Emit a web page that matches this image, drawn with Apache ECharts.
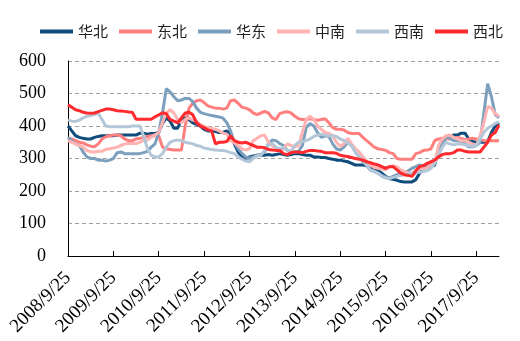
<!DOCTYPE html>
<html>
<head>
<meta charset="utf-8">
<script src="https://cdn.jsdelivr.net/npm/echarts@6/dist/echarts.min.js"></script>
<style>
html,body{margin:0;padding:0;background:#fff;}
#chart{width:520px;height:341px;}
</style>
</head>
<body>
<div id="chart"></div>
<script>
// Monthly samples (the 25th of each month) from 2008/9/25 to 2018/3/25
const startYear = 2008, startMonth = 9, sampleCount = 115;
const categories = [];
for (let k = 0; k < sampleCount; k++) {
  const m = startMonth - 1 + k;
  categories.push((startYear + Math.floor(m / 12)) + '/' + (m % 12 + 1) + '/25');
}

const seriesNames = ['华北', '东北', '华东', '中南', '西南', '西北'];

const huabei = [
  400,385,370,365,362,360,360,365,368,370,370,370,
  370,372,372,372,372,372,372,378,378,375,377,377,
  380,408,425,415,393,393,420,425,420,410,405,400,
  390,385,385,383,380,380,385,375,345,320,305,300,
  305,308,310,310,310,312,310,312,315,312,310,312,
  315,315,312,310,310,305,305,303,303,300,298,295,
  295,292,290,285,280,280,280,278,270,265,262,255,
  245,238,236,233,229,228,228,228,235,255,268,274,
  275,280,330,350,362,365,372,372,378,378,360,352,
  350,350,350,352,380,400,410
];
const dongbei = [
  362,360,355,350,348,342,338,336,345,360,367,370,
  372,372,370,360,355,355,360,362,365,368,370,372,
  370,335,330,328,326,326,326,400,455,470,478,480,
  472,462,458,455,455,452,455,478,480,470,458,455,
  450,440,435,440,445,440,425,420,438,442,444,440,
  430,422,420,420,422,420,418,420,422,410,395,390,
  390,388,380,377,377,377,365,355,345,335,330,328,
  325,318,315,300,298,298,298,298,315,318,325,326,
  330,355,360,362,362,360,362,365,362,358,360,362,
  360,358,355,355,355,355,355
];
const huadong = [
  365,355,345,340,320,305,300,300,295,295,292,295,
  300,318,320,315,315,315,315,315,318,322,335,345,
  380,440,515,505,490,478,480,485,485,475,455,442,
  438,435,432,430,428,424,410,385,350,330,316,305,
  300,305,310,312,320,345,357,355,346,340,325,318,
  320,322,340,395,408,400,380,365,370,368,345,330,
  326,335,350,340,320,305,290,278,264,260,255,248,
  243,240,245,250,256,258,262,270,275,280,278,282,
  280,290,320,345,367,362,355,355,352,345,336,336,
  340,350,440,530,490,435,425
];
const zhongnan = [
  355,350,345,340,335,325,320,320,322,322,328,330,
  332,335,340,345,346,346,346,350,356,357,365,372,
  380,410,440,450,440,420,410,420,425,418,415,405,
  398,395,392,390,385,378,375,355,348,340,330,326,
  330,355,362,370,372,350,340,330,322,330,345,340,
  336,340,380,420,430,420,400,390,380,378,370,350,
  338,345,362,345,330,320,305,292,280,272,270,268,
  265,275,278,275,265,260,255,255,262,270,268,272,
  280,290,340,360,370,372,365,360,355,355,350,345,
  340,370,410,460,455,438,430
];
const xinan = [
  418,415,414,418,425,430,432,435,438,420,400,398,
  398,398,398,398,398,400,400,400,370,330,310,305,
  305,315,335,350,355,357,355,350,348,345,340,338,
  332,330,328,326,325,325,322,318,315,305,298,292,
  290,300,308,310,325,340,347,335,330,332,326,322,
  340,350,352,355,360,368,372,375,372,370,370,368,
  360,355,348,340,320,305,295,280,265,260,255,245,
  240,238,242,245,248,250,252,255,255,258,260,262,
  270,285,310,335,350,345,342,345,345,342,340,338,
  340,360,380,393,400,408,413
];
const xibei = [
  465,458,450,447,442,440,439,440,444,448,452,452,
  450,447,446,445,443,442,421,421,421,421,421,428,
  434,441,438,420,415,410,425,440,442,435,410,400,
  395,388,385,345,350,350,352,370,355,350,348,350,
  345,340,335,335,333,328,326,325,325,315,312,318,
  320,320,318,322,325,325,323,322,318,318,318,316,
  310,308,306,303,300,298,295,290,287,283,280,275,
  270,275,275,265,255,250,248,245,262,275,278,285,
  290,295,305,312,315,315,318,326,326,322,320,320,
  320,320,335,350,372,380,403
];
const seriesValues = [huabei, dongbei, huadong, zhongnan, xinan, xibei];
const colors = ['#0f4c7c', '#ff7f7f', '#7c9fbd', '#ffb3b3', '#b3c7d8', '#ff2a2e'];
const yTicks = [0, 100, 200, 300, 400, 500, 600];

const chart = echarts.init(document.getElementById('chart'), null, {renderer: 'canvas'});
chart.setOption({
  animation: false,
  backgroundColor: '#fff',
  color: colors,
  legend: {
    top: 19,
    left: 35,
    icon: 'rect',
    itemWidth: 33,
    itemHeight: 4,
    itemGap: 11,
    textStyle: {fontFamily: 'Noto Sans CJK SC', fontSize: 15, color: '#222'},
    data: seriesNames
  },
  grid: {left: 68, right: 21, top: 61, bottom: 85, containLabel: false},
  xAxis: {
    type: 'category',
    data: categories,
    boundaryGap: false,
    axisLine: {lineStyle: {color: '#000', width: 1}},
    axisTick: {show: true, inside: true, length: 5, interval: 11, lineStyle: {color: '#000'}},
    axisLabel: {
      interval: 11, rotate: 45, margin: 19,
      fontFamily: 'Liberation Serif', fontSize: 19, color: '#000'
    },
    splitLine: {show: false}
  },
  yAxis: {
    type: 'value',
    min: yTicks[0], max: yTicks[yTicks.length - 1], interval: 100,
    axisLine: {show: true, lineStyle: {color: '#000', width: 1}},
    axisTick: {show: false},
    axisLabel: {margin: 22, fontFamily: 'Liberation Serif', fontSize: 18, color: '#000'},
    splitLine: {show: true, lineStyle: {color: '#a0a0a0', type: [4, 3], width: 1}}
  },
  series: seriesNames.map((name, k) => ({
    name: name,
    type: 'line',
    data: seriesValues[k],
    showSymbol: false,
    symbol: 'none',
    lineStyle: {width: 3, color: colors[k]},
    itemStyle: {color: colors[k]}
  }))
});
</script>
</body>
</html>
